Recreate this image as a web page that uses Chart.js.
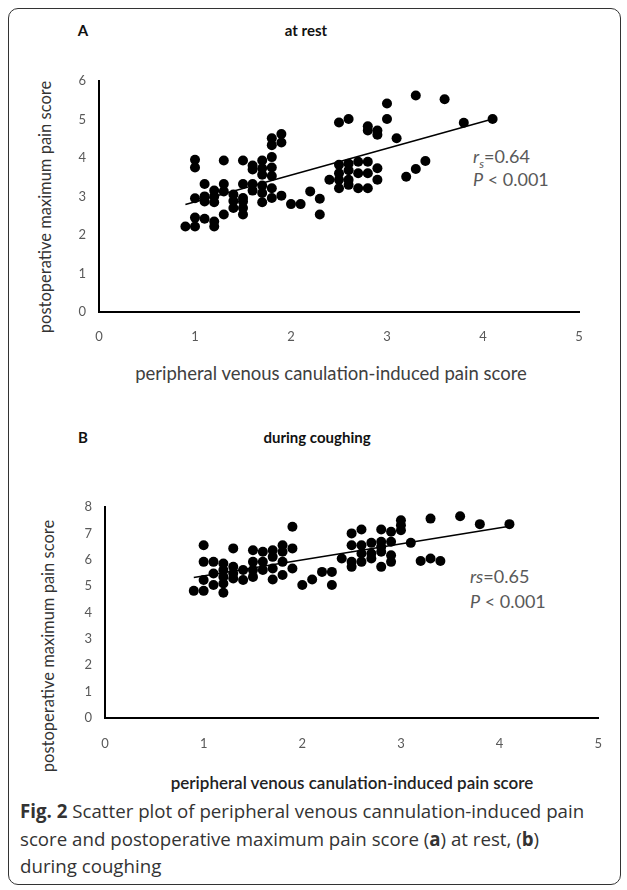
<!DOCTYPE html>
<html>
<head>
<meta charset="utf-8">
<script src="https://cdn.jsdelivr.net/npm/chart.js@4.4.1/dist/chart.umd.min.js"></script>
<style>
  body { margin: 0; background: #fff; width: 627px; height: 890px; position: relative; overflow: hidden; }
  .frame { position: absolute; left: 8px; top: 8px; width: 613px; height: 877px; border: 1.3px solid #333; border-radius: 10px; box-sizing: border-box; }
  .t { position: absolute; white-space: nowrap; font-family: Lato, "Open Sans", sans-serif; }
  .head { font-weight: bold; font-size: 15px; color: #111; transform: translate(-50%, -50%); }
  .ytitle { font-size: 16.5px; color: #333; transform: translate(-50%, -50%) rotate(-90deg); }
  .xtitle { font-size: 18.5px; color: #404040; transform: translate(-50%, -50%); }
  .stat { font-size: 18px; color: #595959; }
  .cap { font-family: "Open Sans", sans-serif; font-size: 18.7px; color: #333; left: 20px; }
  canvas { position: absolute; }
</style>
</head>
<body>
<div class="frame"></div>

<div class="t head" style="left:83px; top:30px;">A</div>
<div class="t head" style="left:306px; top:30px;">at rest</div>
<div class="t ytitle" style="left:45px; top:207px;">postoperative maximum pain score</div>
<div class="t xtitle" style="left:331px; top:373px;">peripheral venous canulation-induced pain score</div>
<div class="t stat" style="left:473px; top:145px;"><i>r<sub style="font-size:12px">s</sub></i>=0.64</div>
<div class="t stat" style="left:473px; top:168px;"><i>P</i> &lt; 0.001</div>

<div class="t head" style="left:83px; top:437px;">B</div>
<div class="t head" style="left:317px; top:437px;">during coughing</div>
<div class="t ytitle" style="left:48px; top:646px;">postoperative maximum pain score</div>
<div class="t xtitle" style="left:352px; top:782px; font-size:17px; font-weight:600; color:#222;">peripheral venous canulation-induced pain score</div>
<div class="t stat" style="left:470px; top:565px;"><i>rs</i>=0.65</div>
<div class="t stat" style="left:470px; top:590px;"><i>P</i> &lt; 0.001</div>

<div class="t cap" style="top:798px;"><b>Fig. 2</b> Scatter plot of peripheral venous cannulation-induced pain</div>
<div class="t cap" style="top:826px;">score and postoperative maximum pain score (<b>a</b>) at rest, (<b>b</b>)</div>
<div class="t cap" style="top:853px;">during coughing</div>

<canvas id="chartA" width="540" height="290" style="left:60px; top:60px;"></canvas>
<canvas id="chartB" width="560" height="275" style="left:60px; top:480px;"></canvas>

<script>
// A: at rest
const restX = [0.9, 1.0, 1.0, 1.0, 1.0, 1.0, 1.1, 1.1, 1.1, 1.1, 1.2, 1.2, 1.2, 1.2, 1.2,
  1.3, 1.3, 1.3, 1.3, 1.4, 1.4, 1.4, 1.5, 1.5, 1.5, 1.5, 1.5, 1.5, 1.6, 1.6, 1.6, 1.6,
  1.7, 1.7, 1.7, 1.7, 1.7, 1.7, 1.8, 1.8, 1.8, 1.8, 1.8, 1.8, 1.8, 1.9, 1.9, 1.9,
  2.0, 2.1, 2.2, 2.3, 2.3, 2.4, 2.5, 2.5, 2.5, 2.5, 2.5, 2.6, 2.6, 2.6, 2.6, 2.6,
  2.7, 2.7, 2.7, 2.8, 2.8, 2.8, 2.8, 2.8, 2.9, 2.9, 2.9, 2.9, 3.0, 3.0, 3.1, 3.2,
  3.3, 3.3, 3.4, 3.6, 3.8, 4.1]
const restY = [2.22, 2.22, 2.45, 2.95, 3.75, 3.95, 2.42, 2.87, 3.0, 3.32, 2.22, 2.35, 2.85, 3.0, 3.15,
  2.53, 3.13, 3.32, 3.93, 2.7, 2.88, 3.05, 2.53, 2.7, 2.87, 2.96, 3.32, 3.93, 3.15, 3.32, 3.7, 3.8,
  2.85, 3.09, 3.28, 3.56, 3.73, 3.93, 2.96, 3.21, 3.53, 3.75, 4.02, 4.33, 4.51, 3.02, 4.4, 4.62,
  2.8, 2.8, 3.13, 2.53, 2.94, 3.43, 3.21, 3.43, 3.6, 3.82, 4.92, 3.3, 3.43, 3.68, 3.85, 5.01,
  3.21, 3.6, 3.9, 3.21, 3.6, 3.9, 4.71, 4.82, 3.43, 3.73, 4.6, 4.71, 5.01, 5.41, 4.51, 3.51,
  3.71, 5.62, 3.92, 5.52, 4.91, 5.01]
const restTrendX = [0.9, 4.1]
const restTrendY = [2.79, 5.01]

// B: during coughing
const coughX = [0.9, 1.0, 1.0, 1.0, 1.0, 1.1, 1.1, 1.1, 1.2, 1.2, 1.2, 1.2, 1.2,
  1.3, 1.3, 1.3, 1.3, 1.4, 1.4, 1.5, 1.5, 1.5, 1.5, 1.6, 1.6, 1.6, 1.7, 1.7, 1.7, 1.7,
  1.8, 1.8, 1.8, 1.8, 1.9, 1.9, 1.9, 2.0, 2.1, 2.2, 2.3, 2.3, 2.4,
  2.5, 2.5, 2.5, 2.5, 2.6, 2.6, 2.6, 2.6, 2.7, 2.7, 2.7, 2.8, 2.8, 2.8, 2.8, 2.8,
  2.9, 2.9, 2.9, 2.9, 3.0, 3.0, 3.0, 3.1, 3.2, 3.3, 3.3, 3.4, 3.6, 3.8, 4.1]
const coughY = [4.82, 4.82, 5.23, 5.92, 6.55, 5.04, 5.48, 5.92, 4.75, 5.1, 5.35, 5.61, 5.86,
  5.29, 5.48, 5.73, 6.43, 5.23, 5.61, 5.35, 5.61, 5.92, 6.36, 5.61, 5.92, 6.3, 5.25, 5.67, 6.11, 6.36,
  5.42, 5.92, 6.3, 6.55, 5.67, 6.43, 7.25, 5.04, 5.25, 5.54, 5.04, 5.54, 6.05,
  5.73, 5.92, 6.55, 7.0, 5.92, 6.24, 6.55, 7.15, 6.05, 6.24, 6.64, 5.73, 6.3, 6.49, 6.68, 7.15,
  5.92, 6.17, 6.68, 7.06, 7.12, 7.31, 7.5, 6.64, 5.95, 6.05, 7.56, 5.95, 7.65, 7.35, 7.35]
const coughTrendX = [0.9, 4.1]
const coughTrendY = [5.33, 7.27]

const xTicks = [0, 1, 2, 3, 4, 5]
const restYTicks = [0, 1, 2, 3, 4, 5, 6]
const coughYTicks = [0, 1, 2, 3, 4, 5, 6, 7, 8]

function pairs(xs, ys) {
    return xs.map(function (x, i) { return {x: x, y: ys[i]} })
}

function drawPanel(id, xs, ys, tx, ty, yTicks, box) {
    const tickFont = {family: 'Lato, "Open Sans", sans-serif', size: 13}
    new Chart(document.getElementById(id), {
        type: 'scatter',
        data: {
            datasets: [{
                data: pairs(xs, ys),
                backgroundColor: '#000',
                borderWidth: 0,
                pointRadius: 5,
                pointHoverRadius: 5
            }, {
                type: 'line',
                data: pairs(tx, ty),
                borderColor: '#000',
                borderWidth: 1.6,
                pointRadius: 0,
                fill: false
            }]
        },
        options: {
            responsive: false,
            animation: false,
            devicePixelRatio: 1,
            layout: {padding: {left: 0, top: box.top, right: box.right, bottom: 0}},
            plugins: {legend: {display: false}, tooltip: {enabled: false}},
            scales: {
                x: {
                    type: 'linear', min: 0, max: 5,
                    afterBuildTicks: function (s) { s.ticks = xTicks.map(function (v) { return {value: v} }) },
                    afterFit: function (s) { s.height = box.xh },
                    grid: {display: false, drawTicks: false},
                    border: {display: true, color: '#000', width: 2},
                    ticks: {color: '#595959', font: tickFont, padding: box.xpad}
                },
                y: {
                    type: 'linear', min: 0, max: yTicks[yTicks.length - 1],
                    afterBuildTicks: function (s) { s.ticks = yTicks.map(function (v) { return {value: v} }) },
                    afterFit: function (s) { s.width = box.yw },
                    grid: {display: false, drawTicks: false},
                    border: {display: true, color: '#000', width: 2},
                    ticks: {color: '#595959', font: tickFont, padding: 13}
                }
            }
        }
    })
}

drawPanel('chartA', restX, restY, restTrendX, restTrendY, restYTicks,
    {top: 18, right: 21, xh: 38, yw: 39, xpad: 17})
drawPanel('chartB', coughX, coughY, coughTrendX, coughTrendY, coughYTicks,
    {top: 27, right: 18, xh: 37, yw: 45, xpad: 18})
</script>
</body>
</html>
